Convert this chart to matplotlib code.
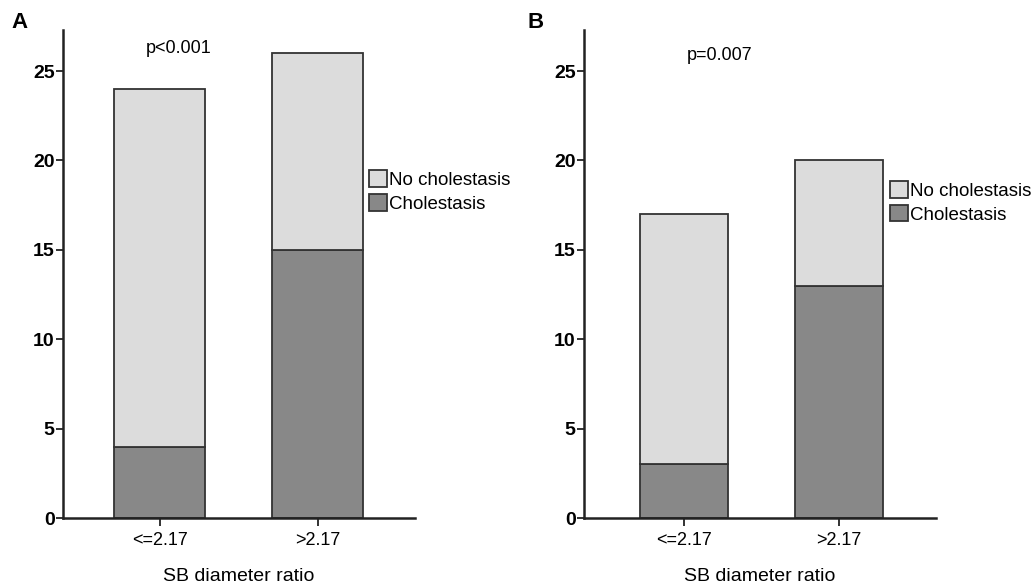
import matplotlib
matplotlib.use("Agg")
import matplotlib.pyplot as plt
from matplotlib.patches import Patch
import numpy as np

plt.rcParams["font.family"] = ["Liberation Sans Narrow", "Liberation Sans", "DejaVu Sans"]

categories = ["<=2.17", ">2.17"]
chol_a = [4, 15]
no_chol_a = [20, 11]
chol_b = [3, 13]
no_chol_b = [14, 7]
panel_labels = ["A", "B"]
p_texts = ["p<0.001", "p=0.007"]
y_ticks = [0, 5, 10, 15, 20, 25]

LIGHT = "#dcdcdc"
DARK = "#888888"
EDGE = "#333333"
AXC = "#222222"

fig = plt.figure(figsize=(10.34, 5.86), dpi=100)

panels = [
    dict(rect=[0.0609, 0.116, 0.3404, 0.833], chol=chol_a, no=no_chol_a, xlim=(-0.614, 1.614),
         width=0.576, p_xy=(0.33, 0.962), leg=(0.87, 0.712), letter_x=0.011),
    dict(rect=[0.5648, 0.116, 0.3404, 0.833], chol=chol_b, no=no_chol_b, xlim=(-0.645, 1.626),
         width=0.565, p_xy=(0.385, 0.948), leg=(0.87, 0.690), letter_x=0.510),
]

for i, cfg in enumerate(panels):
    ax = fig.add_axes(cfg["rect"])
    x = np.arange(len(categories))
    ax.bar(x, cfg["chol"], width=cfg["width"], color=DARK, edgecolor=EDGE, linewidth=1.3)
    ax.bar(x, cfg["no"], bottom=cfg["chol"], width=cfg["width"], color=LIGHT,
           edgecolor=EDGE, linewidth=1.3)
    ax.set_xlim(*cfg["xlim"])
    ax.set_ylim(0, 27.3)
    ax.set_yticks(y_ticks)
    ax.set_xticks(x)
    ax.set_xticklabels(categories, fontsize=13)
    for lab in ax.get_yticklabels():
        lab.set_fontsize(14)
        lab.set_fontweight("bold")
    ax.spines["top"].set_visible(False)
    ax.spines["right"].set_visible(False)
    for s in ["left", "bottom"]:
        ax.spines[s].set_linewidth(1.8)
        ax.spines[s].set_color(AXC)
    ax.tick_params(axis="y", length=5, width=1.3, color=AXC, pad=1)
    ax.tick_params(axis="x", length=6, width=1.3, color=AXC, pad=4)
    ax.set_xlabel("SB diameter ratio", fontsize=14, labelpad=14)
    ax.text(cfg["p_xy"][0], cfg["p_xy"][1], p_texts[i], transform=ax.transAxes,
            fontsize=13, ha="center", va="center")
    handles = [Patch(facecolor=LIGHT, edgecolor=EDGE, linewidth=1.3, label="No cholestasis"),
               Patch(facecolor=DARK, edgecolor=EDGE, linewidth=1.3, label="Cholestasis")]
    ax.legend(handles=handles, loc="upper left", bbox_to_anchor=cfg["leg"], frameon=False,
              fontsize=13.5, handlelength=0.95, handleheight=1.0, handletextpad=0.1,
              labelspacing=0.25, borderpad=0, borderaxespad=0)
    fig.text(cfg["letter_x"], 0.962, panel_labels[i], fontsize=16, fontweight="bold",
             ha="left", va="center", family=["Liberation Sans", "DejaVu Sans"])

fig.savefig("out.png", dpi=100)
